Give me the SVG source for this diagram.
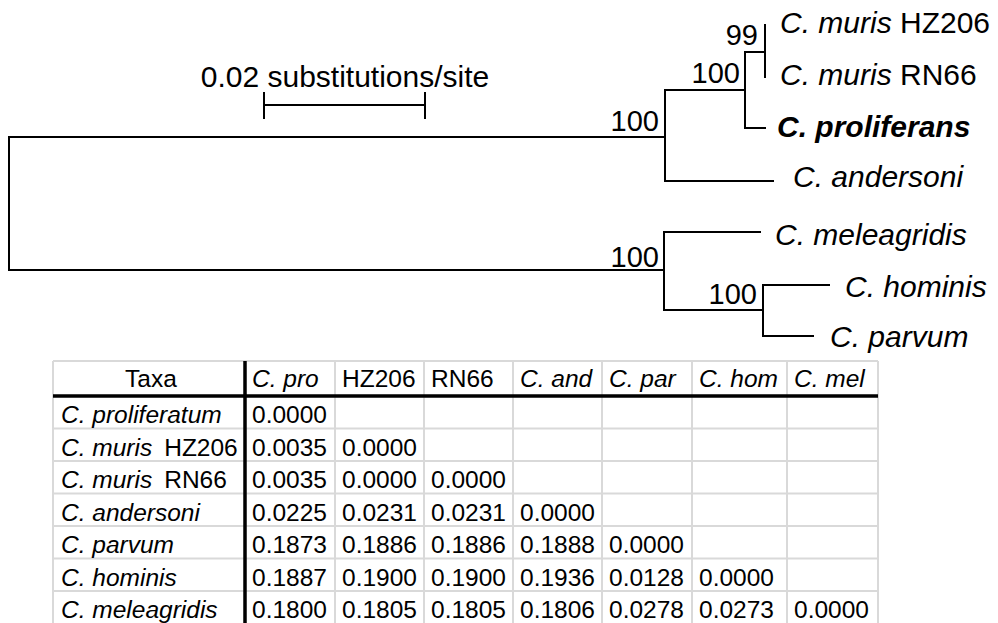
<svg xmlns="http://www.w3.org/2000/svg" width="998" height="623" viewBox="0 0 998 623">
<style>
text{font-family:"Liberation Sans",Arial,sans-serif;fill:#000}
.lbl{font-size:30px;font-style:italic}
.bs{font-size:29px;text-anchor:end}
.br{fill:none;stroke:#000;stroke-width:2;stroke-linecap:square}
.t{font-size:24.5px}
.i{font-style:italic}
.grid{stroke:#d9d9d9;stroke-width:2;fill:none}
.thick{stroke:#000;stroke-width:3.5;fill:none}
</style>
<rect width="998" height="623" fill="#fff"/>
<g id="scalebar">
<text x="345" y="87" font-size="30" text-anchor="middle">0.02 substitutions/site</text>
<path class="br" d="M264 105H425M264 93V118M425 93V118"/>
</g>
<g id="connectors">
<path class="br" d="M9 137V270M9 137H665M9 270H664"/>
<path class="br" d="M665 90V181M665 90H745M665 181H773"/>
<path class="br" d="M745 52V128M745 52H765M745 128H765"/>
<path class="br" d="M765 25V77"/>
<path class="br" d="M664 232V310M664 232H760M664 310H763"/>
<path class="br" d="M763 285V336M763 285H829M763 336H813"/>
</g>
<g id="bootstrap">
<text class="bs" x="758" y="45">99</text>
<text class="bs" x="740" y="83">100</text>
<text class="bs" x="659" y="131">100</text>
<text class="bs" x="659" y="267">100</text>
<text class="bs" x="757" y="304">100</text>
</g>
<g id="taxon-hz206"><text class="lbl" x="780" y="33">C. muris <tspan font-style="normal">HZ206</tspan></text></g>
<g id="taxon-rn66"><text class="lbl" x="780" y="85">C. muris <tspan font-style="normal">RN66</tspan></text></g>
<g id="taxon-proliferans"><text class="lbl" x="777" y="137" font-weight="bold">C. proliferans</text></g>
<g id="taxon-andersoni"><text class="lbl" x="793" y="187">C. andersoni</text></g>
<g id="taxon-meleagridis"><text class="lbl" x="775" y="245">C. meleagridis</text></g>
<g id="taxon-hominis"><text class="lbl" x="845" y="297">C. hominis</text></g>
<g id="taxon-parvum"><text class="lbl" x="830" y="347">C. parvum</text></g>
<g id="table">
<path class="grid" d="M53 361H878M53 428.5H878M53 461H878M53 493.5H878M53 526H878M53 558.5H878M53 591H878M53 361V623M335 361V623M424 361V623M513 361V623M602 361V623M692 361V623M787 361V623M878 361V623"/>
<path class="thick" d="M245 361V623M53 396H878"/>
<g class="t">
<text x="151" y="387" text-anchor="middle">Taxa</text>
<text class="i" x="252" y="387">C. pro</text>
<text x="342" y="387">HZ206</text>
<text x="431" y="387">RN66</text>
<text class="i" x="520" y="387">C. and</text>
<text class="i" x="609" y="387">C. par</text>
<text class="i" x="699" y="387">C. hom</text>
<text class="i" x="794" y="387">C. mel</text>
<text class="i" x="61" y="423">C. proliferatum</text>
<text x="61" y="455.5"><tspan class="i">C. muris</tspan><tspan dx="12">HZ206</tspan></text>
<text x="61" y="488"><tspan class="i">C. muris</tspan><tspan dx="12">RN66</tspan></text>
<text class="i" x="61" y="520.5">C. andersoni</text>
<text class="i" x="61" y="553">C. parvum</text>
<text class="i" x="61" y="585.5">C. hominis</text>
<text class="i" x="61" y="618">C. meleagridis</text>
<text x="252" y="423">0.0000</text>
<text x="252" y="455.5">0.0035</text><text x="342" y="455.5">0.0000</text>
<text x="252" y="488">0.0035</text><text x="342" y="488">0.0000</text><text x="431" y="488">0.0000</text>
<text x="252" y="520.5">0.0225</text><text x="342" y="520.5">0.0231</text><text x="431" y="520.5">0.0231</text><text x="520" y="520.5">0.0000</text>
<text x="252" y="553">0.1873</text><text x="342" y="553">0.1886</text><text x="431" y="553">0.1886</text><text x="520" y="553">0.1888</text><text x="609" y="553">0.0000</text>
<text x="252" y="585.5">0.1887</text><text x="342" y="585.5">0.1900</text><text x="431" y="585.5">0.1900</text><text x="520" y="585.5">0.1936</text><text x="609" y="585.5">0.0128</text><text x="699" y="585.5">0.0000</text>
<text x="252" y="618">0.1800</text><text x="342" y="618">0.1805</text><text x="431" y="618">0.1805</text><text x="520" y="618">0.1806</text><text x="609" y="618">0.0278</text><text x="699" y="618">0.0273</text><text x="794" y="618">0.0000</text>
</g>
</g>
</svg>
